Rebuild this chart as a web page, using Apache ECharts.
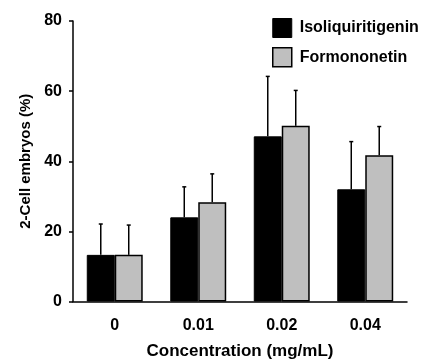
<!DOCTYPE html>
<html><head><meta charset="utf-8">
<script src="https://cdn.jsdelivr.net/npm/echarts@6/dist/echarts.min.js"></script>
<style>html,body{margin:0;padding:0;background:#fff}#c{width:423px;height:359px}</style>
</head><body><div id="c"></div>
<script>
var categories = ['0', '0.01', '0.02', '0.04'];
var isoMean = [13.3, 24.0, 47.1, 32.0];
var isoErr = [8.8, 8.7, 17.1, 13.6];
var formMean = [13.3, 28.3, 50.1, 41.7];
var formErr = [8.5, 8.1, 10.1, 8.2];
var yTicks = [0, 20, 40, 60, 80];

var CAT_GAP = 0.33;
var FONT = 'Liberation Sans, Arial, sans-serif';

function errSeries(means, errs, side) {
  return {
    type: 'custom',
    z: 1,
    data: means.map(function (m, i) { return [i, m, m + errs[i]]; }),
    renderItem: function (params, api) {
      var i = api.value(0);
      var lo = api.coord([i, api.value(1)]);
      var hi = api.coord([i, api.value(2)]);
      var cw = api.size([1, 0])[0];
      var bw = cw * (1 - CAT_GAP) / 2;
      var x = lo[0] + side * bw / 2;
      var cap = 2;
      var st = { stroke: '#000', lineWidth: 1.5 };
      return {
        type: 'group',
        children: [
          { type: 'line', shape: { x1: x, y1: lo[1], x2: x, y2: hi[1] }, style: st },
          { type: 'line', shape: { x1: x - cap, y1: hi[1], x2: x + cap, y2: hi[1] }, style: st }
        ]
      };
    }
  };
}

var chart = echarts.init(document.getElementById('c'), null, { renderer: 'canvas' });
chart.setOption({
  animation: false,
  backgroundColor: '#fff',
  textStyle: { fontFamily: FONT },
  grid: { left: 73, right: 16, top: 21, bottom: 57.5, containLabel: false, outerBoundsMode: 'none' },
  legend: {
    left: 272, top: 18,
    padding: 0,
    orient: 'vertical',
    icon: 'rect',
    itemWidth: 19, itemHeight: 19, itemGap: 9,
    textStyle: { fontFamily: FONT, fontWeight: 'bold', fontSize: 16, color: '#000', padding: [0, 0, 0, 3] },
    data: [
      { name: 'Isoliquiritigenin', itemStyle: { color: '#000', borderColor: '#000', borderWidth: 1 } },
      { name: 'Formononetin', itemStyle: { color: '#bfbfbf', borderColor: '#000', borderWidth: 1.5 } }
    ]
  },
  xAxis: {
    type: 'category',
    data: categories,
    name: 'Concentration (mg/mL)',
    nameLocation: 'middle',
    nameGap: 41,
    nameTextStyle: { fontFamily: FONT, fontWeight: 'bold', fontSize: 17, color: '#000' },
    axisLine: { lineStyle: { color: '#000', width: 1.5 } },
    axisTick: { show: false },
    axisLabel: { fontFamily: FONT, fontWeight: 'bold', fontSize: 16, color: '#000', margin: 16 }
  },
  yAxis: {
    type: 'value',
    min: yTicks[0], max: yTicks[yTicks.length - 1], interval: 20,
    name: '2-Cell embryos (%)',
    nameLocation: 'middle',
    nameGap: 40,
    nameTextStyle: { fontFamily: FONT, fontWeight: 'bold', fontSize: 15, color: '#000' },
    axisLine: { show: true, lineStyle: { color: '#000', width: 1.5 } },
    axisTick: { show: true, inside: false, length: 4, lineStyle: { color: '#000', width: 1.5 } },
    splitLine: { show: false },
    axisLabel: { fontFamily: FONT, fontWeight: 'bold', fontSize: 16, color: '#000', margin: 11 }
  },
  series: [
    errSeries(isoMean, isoErr, -1),
    errSeries(formMean, formErr, 1),
    {
      name: 'Isoliquiritigenin', type: 'bar', data: isoMean, z: 2,
      barGap: '0%', barCategoryGap: (CAT_GAP * 100) + '%',
      itemStyle: { color: '#000', borderColor: '#000', borderWidth: 1 }
    },
    {
      name: 'Formononetin', type: 'bar', data: formMean, z: 2,
      itemStyle: { color: '#bfbfbf', borderColor: '#000', borderWidth: 1.5 }
    }
  ]
});
</script></body></html>
